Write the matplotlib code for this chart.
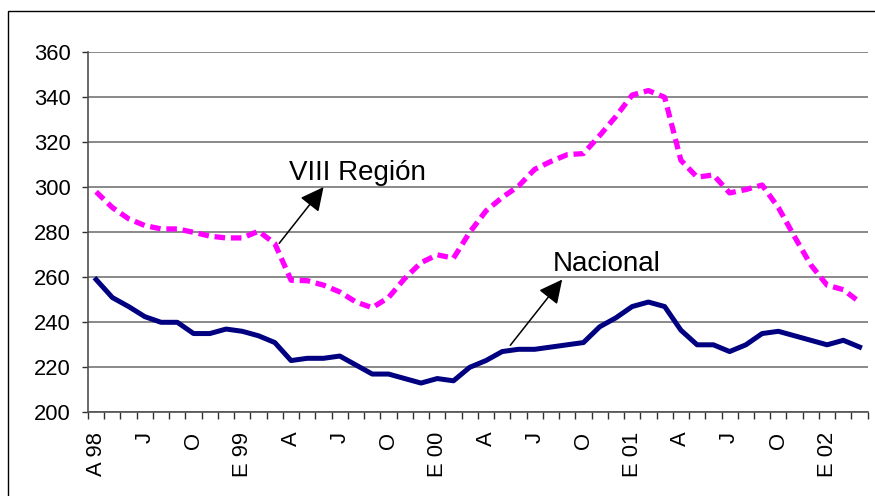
import matplotlib
matplotlib.use("Agg")
import matplotlib.pyplot as plt
from matplotlib.patches import Rectangle
import numpy as np

plt.rcParams['font.family'] = ['Liberation Sans', 'DejaVu Sans']

# Monthly series, April 1998 .. March 2002
nacional = [259, 251, 247, 242.5, 240, 240, 235, 235, 237, 236, 234, 231,
            223, 224, 224, 225, 221, 217, 217, 215, 213, 215, 214, 220,
            223, 227, 228, 228, 229, 230, 231, 238, 242, 247, 249, 247,
            236.5, 230, 230, 227, 230, 235, 236, 234, 232, 230, 232, 229]
region8 = [298, 291, 286, 283, 281.5, 281.5, 280, 278.3, 277.5, 277.5, 280.5, 275,
           258.7, 258.5, 256.5, 253.5, 249, 246.5, 251, 259.5, 266.5, 270, 268.5, 280,
           289.5, 295.5, 300.5, 308, 311.5, 314.5, 315, 323, 331.5, 341, 343, 340,
           312, 304.5, 305.5, 297.5, 299, 301, 291, 278, 265.5, 256.5, 254.5, 249]
tick_labels = ["A 98", "J", "O", "E 99", "A", "J", "O", "E 00",
               "A", "J", "O", "E 01", "A", "J", "O", "E 02"]
y_ticks = [200, 220, 240, 260, 280, 300, 320, 340, 360]

W, H = 875, 496
fig = plt.figure(figsize=(W / 100, H / 100), dpi=100)
ax = fig.add_axes([88 / W, (H - 412.3) / H, (867.7 - 88) / W, (412.3 - 52.3) / H])

n = len(nacional)
x = np.arange(n)
ax.plot(x, region8, color='#FF00FF', lw=3.8, linestyle=(0, (2.0, 1.1)),
        dash_capstyle='butt', zorder=3)
ax.plot(x, nacional, color='#000080', lw=3.6, solid_joinstyle='round', zorder=4)

ax.set_xlim(-0.5, n - 0.5)
ax.set_ylim(200, 360)
ax.set_yticks(y_ticks)
ax.yaxis.grid(True, color='#808080', lw=1.3)
ax.set_axisbelow(True)

ax.set_xticks(np.arange(0, n, 3))
ax.set_xticklabels(tick_labels, rotation=90, va='top', ha='center')
ax.set_xticks(np.arange(-0.5, n, 1), minor=True)
ax.tick_params(axis='x', which='major', length=0, pad=14, labelsize=15.8)
ax.tick_params(axis='x', which='minor', length=4.8, width=1, color='#303030', direction='out')
ax.tick_params(axis='y', length=4.5, width=1, color='#303030', pad=8, labelsize=15.8)

for s in ['top', 'right']:
    ax.spines[s].set_visible(False)
for s in ['left', 'bottom']:
    ax.spines[s].set_color('#505050')
    ax.spines[s].set_linewidth(1.2)

# annotations
ax.text(11.9, 303.4, "VIII Región", fontsize=20, ha='left', va='baseline')
ax.annotate('', xy=(14.0, 300.1), xytext=(11.27, 275.1),
            arrowprops=dict(arrowstyle='-|>,head_length=0.4,head_width=0.2',
                            mutation_scale=36, lw=1.1, color='black',
                            shrinkA=0, shrinkB=0), zorder=5)
ax.text(28.13, 262.8, "Nacional", fontsize=20, ha='left', va='baseline')
ax.annotate('', xy=(28.69, 259.0), xytext=(25.5, 229.8),
            arrowprops=dict(arrowstyle='-|>,head_length=0.4,head_width=0.2',
                            mutation_scale=36, lw=1.1, color='black',
                            shrinkA=0, shrinkB=0), zorder=5)

# outer chart border
fig.patches.append(Rectangle((8 / W, -0.05), 1.0, 1 - 11.5 / H + 0.05,
                             transform=fig.transFigure, fill=False,
                             edgecolor='black', lw=1.0, clip_on=False))

fig.savefig('out.png', dpi=100)
